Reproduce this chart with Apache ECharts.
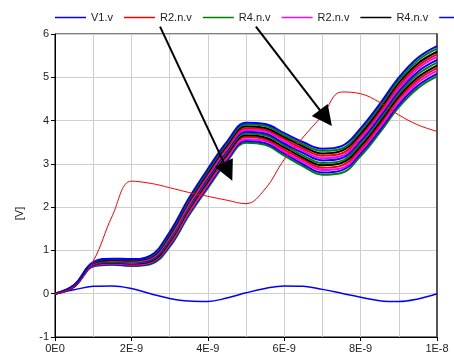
<!DOCTYPE html>
<html>
<head>
<meta charset="utf-8">
<script src="https://cdn.jsdelivr.net/npm/echarts@6/dist/echarts.min.js"></script>
<style>
  html, body { margin: 0; padding: 0; background: #fff; }
  #chart { width: 454px; height: 355px; }
</style>
</head>
<body>
<div id="chart"></div>
<script>
// time axis in ns (labels shown in seconds like the original plot)
const timeNs = [0, 0.5, 1, 1.5, 2, 2.5, 3, 3.5, 4, 4.5, 5, 5.5, 6, 6.5, 7, 7.5, 8, 8.5, 9, 9.5, 10]
const xTickLabels = ["0E0", "", "2E-9", "", "4E-9", "", "6E-9", "", "8E-9", "", "1E-8"]

const v1Values = [0, 0.09, 0.17, 0.18, 0.12, 0.0, -0.11, -0.17, -0.18, -0.1, 0.02, 0.12, 0.18, 0.17, 0.1, 0.01, -0.08, -0.16, -0.18, -0.12, 0]
const redValues = [0, 0.17, 0.75, 1.8, 2.6, 2.55, 2.45, 2.34, 2.25, 2.16, 2.08, 2.42, 3.1, 3.62, 4.12, 4.66, 4.62, 4.42, 4.13, 3.9, 3.75]

// the bundle of runs, one row per time step, one column per run (top to bottom)
const bandRows = [
  [0, 0, 0, 0, 0, 0, 0, 0, 0, 0, 0, 0],
  [0.20, 0.20, 0.19, 0.19, 0.19, 0.18, 0.18, 0.17, 0.17, 0.17, 0.16, 0.16],
  [0.73, 0.72, 0.71, 0.70, 0.69, 0.68, 0.68, 0.67, 0.66, 0.65, 0.64, 0.63],
  [0.81, 0.80, 0.78, 0.77, 0.76, 0.75, 0.73, 0.72, 0.71, 0.70, 0.68, 0.67],
  [0.80, 0.79, 0.77, 0.76, 0.74, 0.73, 0.71, 0.70, 0.68, 0.67, 0.65, 0.64],
  [0.88, 0.86, 0.84, 0.83, 0.81, 0.79, 0.77, 0.75, 0.73, 0.72, 0.70, 0.68],
  [1.42, 1.39, 1.36, 1.33, 1.30, 1.27, 1.23, 1.20, 1.17, 1.14, 1.11, 1.08],
  [2.20, 2.16, 2.13, 2.09, 2.05, 2.02, 1.98, 1.95, 1.91, 1.87, 1.84, 1.80],
  [2.88, 2.84, 2.80, 2.76, 2.72, 2.68, 2.64, 2.60, 2.56, 2.52, 2.48, 2.44],
  [3.51, 3.47, 3.43, 3.38, 3.34, 3.30, 3.26, 3.22, 3.18, 3.13, 3.09, 3.05],
  [3.95, 3.91, 3.87, 3.82, 3.78, 3.74, 3.70, 3.66, 3.62, 3.57, 3.53, 3.49],
  [3.92, 3.88, 3.83, 3.79, 3.75, 3.70, 3.66, 3.61, 3.57, 3.53, 3.48, 3.44],
  [3.71, 3.66, 3.62, 3.57, 3.52, 3.47, 3.43, 3.38, 3.33, 3.28, 3.24, 3.19],
  [3.50, 3.45, 3.40, 3.35, 3.30, 3.25, 3.19, 3.14, 3.09, 3.04, 2.99, 2.94],
  [3.35, 3.30, 3.24, 3.19, 3.13, 3.08, 3.02, 2.97, 2.91, 2.86, 2.80, 2.75],
  [3.41, 3.35, 3.30, 3.24, 3.18, 3.13, 3.07, 3.02, 2.96, 2.90, 2.85, 2.79],
  [3.82, 3.76, 3.70, 3.65, 3.59, 3.53, 3.47, 3.41, 3.35, 3.30, 3.24, 3.18],
  [4.38, 4.32, 4.26, 4.20, 4.14, 4.08, 4.02, 3.96, 3.90, 3.84, 3.78, 3.72],
  [4.99, 4.93, 4.87, 4.80, 4.74, 4.68, 4.62, 4.56, 4.50, 4.43, 4.37, 4.31],
  [5.45, 5.39, 5.32, 5.26, 5.20, 5.13, 5.07, 5.00, 4.94, 4.88, 4.81, 4.75],
  [5.72, 5.66, 5.59, 5.53, 5.47, 5.40, 5.34, 5.27, 5.21, 5.15, 5.08, 5.02],
]
const bandNames = ["R4.n.v", "R2.n.v"]
const bandColors = ["#008000", "#0000ff", "#ff00ff", "#ff0000", "#000000"]

// legend as shown across the top (runs off the right edge)
const legendEntries = [
  ["V1.v", "#0000ff"],
  ["R2.n.v", "#ff0000"],
  ["R4.n.v", "#008000"],
  ["R2.n.v", "#ff00ff"],
  ["R4.n.v", "#000000"],
  ["R2.n.v", "#0000ff"],
]

// annotation arrows: [from, to] in plot units (ns, V)
const arrows = [
  [[2.75, 6.17], [4.53, 2.82]],
  [[5.26, 6.17], [7.09, 4.06]],
]

const chart = echarts.init(document.getElementById("chart"), null, { renderer: "canvas" })

const pairs = (vals) => timeNs.map((t, i) => [t, vals[i]])

const lineSeries = (name, color, vals, width) => ({
  type: "line",
  name,
  data: pairs(vals),
  color,
  itemStyle: { color },
  lineStyle: { color, width },
  showSymbol: false,
  smooth: 0.4,
  silent: true,
})

const series = [lineSeries("V1.v", "#0000ff", v1Values, 1.5)]
const nRuns = bandRows[0].length
for (let idx = 0; idx < nRuns; idx++) {
  // bottom runs first so the top ones end on top
  const k = nRuns - 1 - idx
  const vals = bandRows.map((row) => row[k])
  series.push(lineSeries(bandNames[idx % 2] + "#" + idx, bandColors[idx % 5], vals, 2))
}
series.push(lineSeries("R2.n.v", "#ff0000", redValues, 1))

// legend-only entries (empty series) so duplicated names still get their own item
const legendNames = legendEntries.map(([label, color], i) => {
  const name = label + "@" + i
  series.push({ type: "line", name, data: [], color, itemStyle: { color }, lineStyle: { color } })
  return name
})

series.push({
  type: "lines",
  coordinateSystem: "cartesian2d",
  silent: true,
  clip: false,
  symbol: ["none", "triangle"],
  symbolSize: [15, 20],
  lineStyle: { color: "#000", width: 2, opacity: 1 },
  itemStyle: { color: "#000" },
  data: arrows.map((coords) => ({ coords })),
  z: 5,
})

const option = {
  animation: false,
  backgroundColor: "#fff",
  textStyle: { fontFamily: "Liberation Sans, Arial, sans-serif" },
  legend: {
    left: 55,
    top: 12,
    width: 1200,
    padding: 0,
    icon: "rect",
    itemWidth: 31,
    itemHeight: 1.5,
    itemGap: 11,
    data: legendNames,
    formatter: (name) => name.split("@")[0],
    textStyle: { fontSize: 11, color: "#222" },
  },
  grid: { left: 55, right: 17, top: 34, bottom: 18, show: true, borderColor: "#000", borderWidth: 1 },
  xAxis: {
    type: "value",
    min: 0,
    max: 10,
    interval: 2,
    axisLine: { onZero: false, lineStyle: { color: "#000" } },
    axisTick: { length: 4, lineStyle: { color: "#000" } },
    axisLabel: { fontSize: 11, color: "#222", margin: 6, formatter: (v) => xTickLabels[Math.round(v)] },
    splitLine: { show: true, lineStyle: { color: "#cfcfcf", width: 1 } },
    minorTick: { show: false, splitNumber: 2 },
    minorSplitLine: { show: true, lineStyle: { color: "#cfcfcf", width: 1 } },
  },
  yAxis: [
    {
      type: "value",
      min: -1,
      max: 6,
      interval: 1,
      name: "[V]",
      nameLocation: "middle",
      nameGap: 30,
      nameTextStyle: { fontSize: 11, color: "#222", padding: [0, 56, 0, 0] },
      axisLine: { show: true, onZero: false, lineStyle: { color: "#000" } },
      axisTick: { show: true, length: 4, lineStyle: { color: "#000" } },
      axisLabel: { fontSize: 11, color: "#222", margin: 6 },
      splitLine: { show: true, lineStyle: { color: "#cfcfcf", width: 1 } },
    },
    {
      type: "value",
      position: "right",
      min: -1,
      max: 6,
      interval: 1,
      axisLine: { show: true, onZero: false, lineStyle: { color: "#555", width: 2 } },
      axisTick: { show: false },
      axisLabel: { show: false },
      splitLine: { show: false },
    },
  ],
  series,
}

chart.setOption(option)
</script>
</body>
</html>
